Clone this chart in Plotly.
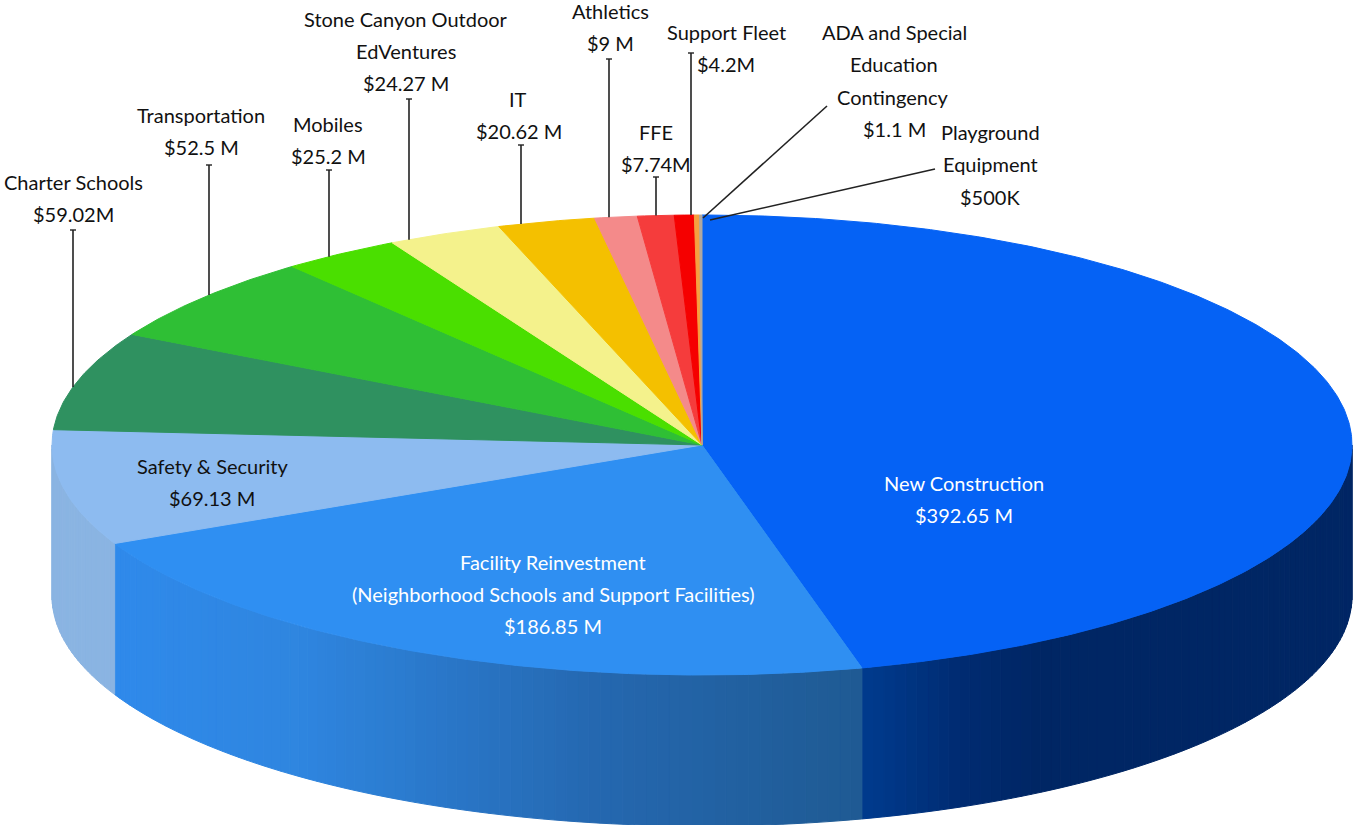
import numpy as np
import plotly.graph_objects as go

# ---------- data ----------
categories = ["New Construction", "Facility Reinvestment", "Safety & Security", "Charter Schools",
              "Transportation", "Mobiles", "Stone Canyon Outdoor EdVentures", "IT", "Athletics",
              "FFE", "Support Fleet", "ADA and Special Education Contingency", "Playground Equipment"]
values_musd = [392.65, 186.85, 69.13, 59.02, 52.5, 25.2, 24.27, 20.62, 9, 7.74, 4.2, 1.1, 0.5]
colors = ["#0562f5", "#2f8ff2", "#8dbbf0", "#2f9160", "#2fbf35", "#4adf00", "#f4f28c",
          "#f4c000", "#f48a8a", "#f53c3c", "#f50000", "#f5a040", "#b0a8a0"]

# ---------- layout constants ----------
W, H = 1353, 825
CX, CY, RX, RY, DEPTH = 702.0, 445.0, 650.0, 230.0, 151.0
FONT = "Lato"
FS = 20

# side wall colour stops (x pixel -> colour) per front-facing slice
side_stops = {
    0: [(875, "#003a8c"), (960, "#002c72"), (1040, "#002664"), (1353, "#002664")],
    1: [(120, "#2f8aeb"), (300, "#2f86e0"), (600, "#2568b0"), (875, "#1f5a92")],
    2: [(52, "#8ab4e2"), (120, "#8ab4e2")],
}

# text lines: (text, x, y, colour)
text_lines = [
    ("Charter Schools", 73, 182, "#111"), ("$59.02M", 73, 214, "#111"),
    ("Transportation", 201, 115, "#111"), ("$52.5 M", 201, 147, "#111"),
    ("Mobiles", 328, 124, "#111"), ("$25.2 M", 328, 156, "#111"),
    ("Stone Canyon Outdoor", 406, 19, "#111"), ("EdVentures", 406, 51, "#111"), ("$24.27 M", 406, 83, "#111"),
    ("IT", 518, 99, "#111"), ("$20.62 M", 519, 131, "#111"),
    ("Athletics", 610, 11, "#111"), ("$9 M", 610, 43, "#111"),
    ("FFE", 656, 132, "#111"), ("$7.74M", 656, 164, "#111"),
    ("Support Fleet", 726, 32, "#111"), ("$4.2M", 726, 64, "#111"),
    ("ADA and Special", 894, 32, "#111"), ("Education", 894, 64, "#111"),
    ("Contingency", 893, 97, "#111"), ("$1.1 M", 894, 129, "#111"),
    ("Playground", 990, 132, "#111"), ("Equipment", 990, 164, "#111"), ("$500K", 990, 197, "#111"),
    ("Safety & Security", 212, 466, "#111"), ("$69.13 M", 212, 498, "#111"),
    ("Facility Reinvestment", 553, 562, "#fff"),
    ("(Neighborhood Schools and Support Facilities)", 553, 594, "#fff"),
    ("$186.85 M", 553, 626, "#fff"),
    ("New Construction", 964, 483, "#fff"), ("$392.65 M", 964, 515, "#fff"),
]
# vertical leaders: x pixel and top y (bottom lands on the rim)
leaders_v = [(73, 230), (209, 165), (329, 170), (409, 99), (521, 145), (609, 59), (656, 177), (691, 53)]
# slanted leaders: from label to the pie
leaders_s = [((827, 106), (703, 218)), ((935, 169), (710, 220))]

# ---------- geometry ----------
total = sum(values_musd)
edges = np.concatenate([[0.0], np.cumsum(values_musd)]) / total * 2 * np.pi


def rim(t, dy=0.0):
    return CX + RX * np.sin(t), CY - RY * np.cos(t) + dy


def hex2rgb(c):
    return np.array([int(c[i:i + 2], 16) for i in (1, 3, 5)], float)


def stop_color(stops, x):
    xs = [s[0] for s in stops]
    cs = np.array([hex2rgb(s[1]) for s in stops])
    r = [np.interp(x, xs, cs[:, k]) for k in range(3)]
    return "rgb(%d,%d,%d)" % tuple(r)


fig = go.Figure()


def poly(xs, ys, color):
    fig.add_trace(go.Scatter(x=xs, y=ys, mode="lines", fill="toself", fillcolor=color,
                             line=dict(color=color, width=1), hoverinfo="skip", showlegend=False))


# side walls (thin strips so they can carry a horizontal gradient)
for i, stops in side_stops.items():
    a = max(edges[i], np.pi / 2)
    b = min(edges[i + 1], 3 * np.pi / 2)
    n = max(2, int((b - a) / np.radians(1.0)))
    ts = np.linspace(a, b, n + 1)
    for t0, t1 in zip(ts[:-1], ts[1:]):
        x0, y0 = rim(t0)
        x1, y1 = rim(t1)
        poly([x0, x1, x1, x0, x0], [y0, y1, y1 + DEPTH, y0 + DEPTH, y0], stop_color(stops, (x0 + x1) / 2))

# top faces
for i, c in enumerate(colors):
    ts = np.linspace(edges[i], edges[i + 1], max(3, int((edges[i + 1] - edges[i]) / np.radians(0.5))))
    xs, ys = rim(ts)
    poly(np.r_[CX, xs, CX], np.r_[CY, ys, CY], c)

# leaders
LC = "#222"
for x, top in leaders_v:
    t = np.arcsin((x - CX) / RX)
    _, yb = rim(t)
    fig.add_trace(go.Scatter(x=[x, x], y=[top, yb], mode="lines", line=dict(color=LC, width=1.6),
                             hoverinfo="skip", showlegend=False))
    fig.add_trace(go.Scatter(x=[x - 3, x + 3], y=[top, top], mode="lines", line=dict(color=LC, width=1.4),
                             hoverinfo="skip", showlegend=False))
for p, q in leaders_s:
    fig.add_trace(go.Scatter(x=[p[0], q[0]], y=[p[1], q[1]], mode="lines", line=dict(color=LC, width=1.6),
                             hoverinfo="skip", showlegend=False))

for txt, x, y, col in text_lines:
    fig.add_annotation(x=x, y=y, text=txt, showarrow=False, xanchor="center", yanchor="middle",
                       font=dict(family=FONT, size=FS, color=col))

fig.update_layout(width=W, height=H, margin=dict(l=0, r=0, t=0, b=0), paper_bgcolor="white",
                  plot_bgcolor="white", showlegend=False,
                  xaxis=dict(range=[0, W], visible=False, fixedrange=True),
                  yaxis=dict(range=[H, 0], visible=False, fixedrange=True))
fig.write_html("out.html", config={"displayModeBar": False},
               post_script="document.body.style.margin='0';document.documentElement.style.overflow='hidden';")
